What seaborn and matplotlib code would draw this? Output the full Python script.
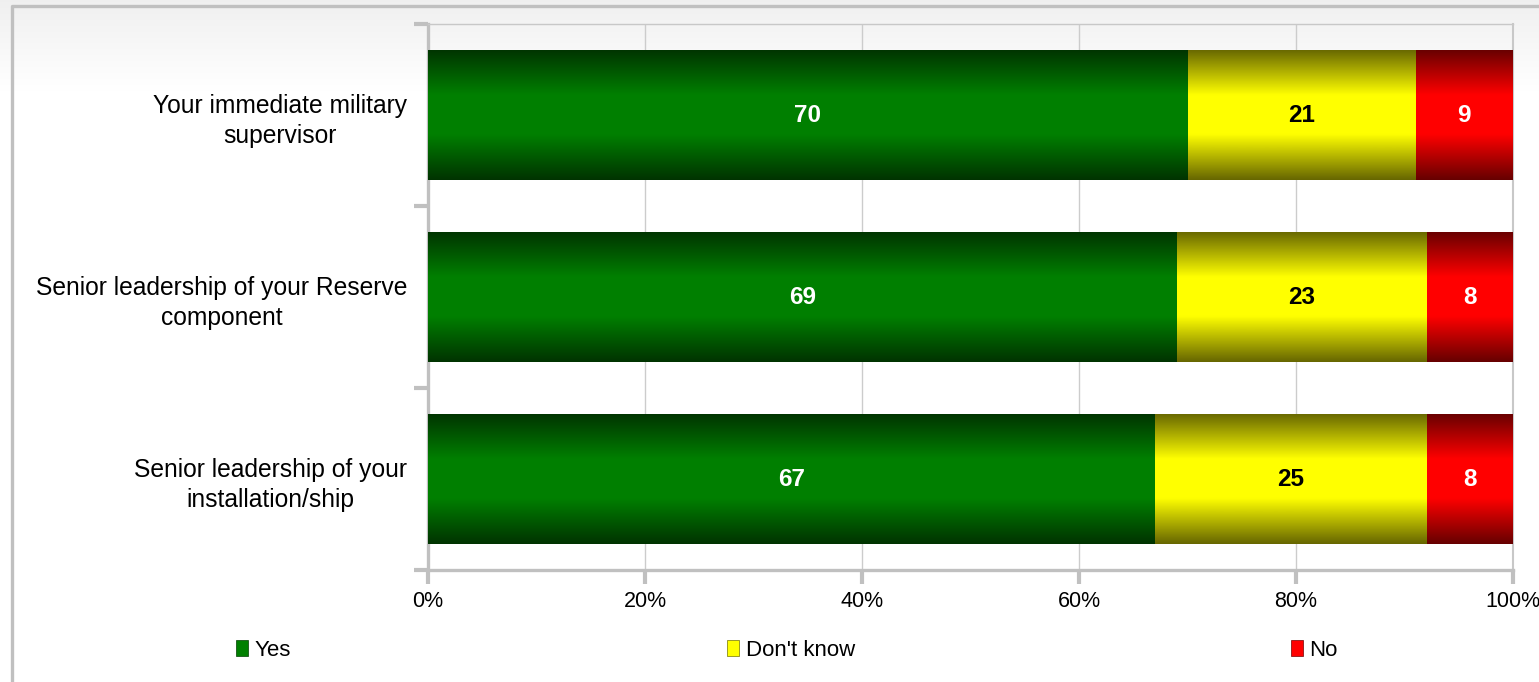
import numpy as np
import pandas as pd
import seaborn as sns
import matplotlib.pyplot as plt
from matplotlib.patches import Patch

# dados do grafico
perguntas = ['Your immediate military\nsupervisor',
             'Senior leadership of your Reserve\ncomponent',
             'Senior leadership of your\ninstallation/ship']
yes = [70, 69, 67]
dont_know = [21, 23, 25]
no = [9, 8, 8]
legenda = ['Yes', "Don't know", 'No']
ticks_x = [0, 20, 40, 60, 80, 100]

df = pd.DataFrame({'pergunta': perguntas, 'yes': yes, 'dk': dont_know, 'no': no})
df['yes_dk'] = df['yes'] + df['dk']
df['total'] = df['yes_dk'] + df['no']

verde = (0.0, 0.5, 0.0)
amarelo = (1.0, 1.0, 0.0)
vermelho = (1.0, 0.0, 0.0)

sns.set_style('white')
plt.rcParams['font.family'] = ['Liberation Sans', 'DejaVu Sans']
plt.rcParams['text.color'] = 'black'


def degrade(cor):
    # escuro nas bordas, claro no meio
    t = np.linspace(0, 1, 256)
    d = np.abs(t - 0.5) * 2
    f = np.where(d < 0.3, 1.0, 1 - 0.6 * (d - 0.3) / 0.7)
    return np.array(cor)[None, None, :] * f[:, None, None]


fig = plt.figure(figsize=(15.39, 6.82), dpi=100)
fig.patch.set_facecolor('white')

# fundo com leve degrade e moldura
bg = fig.add_axes([0, 0, 1, 1], zorder=-10)
yy = np.arange(682)
tom = np.clip(0.94 + 0.06 * yy / 90, 0, 1)
bg.imshow(np.repeat(tom[:, None, None], 3, axis=2), extent=[0, 1539, 682, 0], aspect='auto')
bg.plot([11.5, 11.5, 1560], [700, 5.5, 5.5], color='#c0c0c0', lw=2.4, solid_capstyle='round')
bg.set_xlim(0, 1539)
bg.set_ylim(682, 0)
bg.axis('off')

ax = fig.add_axes([428 / 1539, 1 - 570 / 682, (1513 - 428) / 1539, (570 - 24) / 682])
ax.patch.set_alpha(0)

camadas = [('total', vermelho), ('yes_dk', amarelo), ('yes', verde)]
for i, (col, cor) in enumerate(camadas):
    n = len(ax.patches)
    sns.barplot(data=df, x=col, y='pergunta', color=cor, saturation=1, orient='h',
                width=0.715, errorbar=None, linewidth=0, ax=ax)
    for p in ax.patches[n:]:
        p.set_zorder(3 + i)
        p.set_edgecolor('none')
        x0, y0, w, h = p.get_x(), p.get_y(), p.get_width(), p.get_height()
        im = ax.imshow(degrade(cor), extent=[x0, x0 + w, y0 + h, y0], aspect='auto',
                       interpolation='bilinear', zorder=3 + i + 0.5)
        im.set_clip_path(p)

ax.set_xlim(0, 100)
ax.set_ylim(2.5, -0.5)

# rotulos dos valores
for i in range(len(perguntas)):
    ax.text(yes[i] / 2, i, str(yes[i]), color='white', fontsize=17.5, fontweight='bold',
            ha='center', va='center', zorder=10)
    ax.text(yes[i] + dont_know[i] / 2, i, str(dont_know[i]), color='black', fontsize=17.5,
            fontweight='bold', ha='center', va='center', zorder=10)
    ax.text(yes[i] + dont_know[i] + no[i] / 2, i, str(no[i]), color='white', fontsize=17.5,
            fontweight='bold', ha='center', va='center', zorder=10)

ax.set_xticks(ticks_x)
ax.set_xticklabels([f'{v}%' for v in ticks_x])
ax.set_xlabel('')
ax.set_ylabel('')
ax.grid(axis='x', color='#cccccc', lw=1)
ax.set_axisbelow(True)

ax.tick_params(axis='x', length=10, width=3, color='#c0c0c0', labelsize=15.5, pad=5,
               labelcolor='black', bottom=True)
ax.tick_params(axis='y', which='major', length=0, pad=15, labelsize=17.7, labelcolor='black')
ax.set_yticks([-0.5, 0.5, 1.5, 2.5], minor=True)
ax.tick_params(axis='y', which='minor', length=10, width=3, color='#c0c0c0', left=True)
for lab in ax.get_yticklabels():
    lab.set_multialignment('center')
    lab.set_linespacing(1.35)

for lado in ['left', 'bottom']:
    ax.spines[lado].set_color('#c0c0c0')
    ax.spines[lado].set_linewidth(2.4)
ax.spines['top'].set_color('#c8c8c8')
ax.spines['top'].set_linewidth(1)
ax.spines['right'].set_color('#c8c8c8')
ax.spines['right'].set_linewidth(1.5)

handles = [Patch(facecolor=verde, edgecolor=(0, 0.25, 0), lw=0.5),
           Patch(facecolor=amarelo, edgecolor=(0.45, 0.45, 0), lw=0.5),
           Patch(facecolor=vermelho, edgecolor=(0.45, 0, 0), lw=0.5)]
fig.legend(handles, legenda, loc='center', bbox_to_anchor=(787 / 1539, 1 - 650 / 682), ncol=3,
           frameon=False, fontsize=16, labelcolor='black', handlelength=0.55, handleheight=0.7,
           handletextpad=0.3, columnspacing=19.6)

fig.savefig('out.png', dpi=100)
